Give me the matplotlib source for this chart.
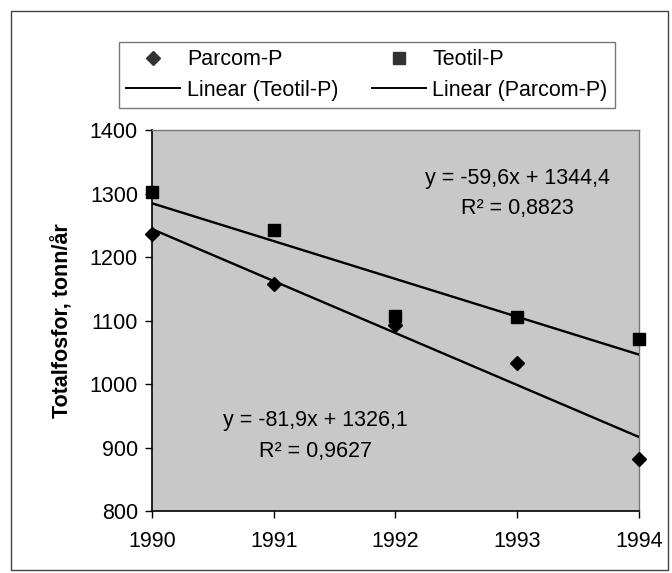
import matplotlib
matplotlib.use("Agg")
import matplotlib.pyplot as plt
from matplotlib.patches import Rectangle
from matplotlib.lines import Line2D
import numpy as np

plt.rcParams['font.family'] = ['Liberation Sans', 'DejaVu Sans']

years = ["1990", "1991", "1992", "1993", "1994"]
parcom_p = [1236, 1157, 1093, 1034, 882]
teotil_p = [1302, 1242, 1108, 1105, 1071]
teotil_fit = (-59.6, 1344.4)
parcom_fit = (-81.9, 1326.1)
teotil_eq = ["y = -59,6x + 1344,4", "R² = 0,8823"]
parcom_eq = ["y = -81,9x + 1326,1", "R² = 0,9627"]
yticks = [800, 900, 1000, 1100, 1200, 1300, 1400]

fig = plt.figure(figsize=(6.72, 5.73), dpi=100)
ax = fig.add_axes([0.226, 0.108, 0.725, 0.665])
ax.set_facecolor('#c8c8c8')

x = np.arange(1, len(years) + 1)
fs = 15.5

ax.plot(x, parcom_p, linestyle='none', marker='D', ms=7.5, color='black', zorder=4, clip_on=False)
ax.plot(x, teotil_p, linestyle='none', marker='s', ms=9, color='black', zorder=4, clip_on=False)
ax.plot(x, teotil_fit[0] * x + teotil_fit[1], color='black', lw=1.7, zorder=3)
ax.plot(x, parcom_fit[0] * x + parcom_fit[1], color='black', lw=1.7, zorder=3)

ax.set_xlim(1, 5)
ax.set_ylim(800, 1400)
ax.set_xticks(x)
ax.set_xticklabels(years, fontsize=fs)
ax.set_yticks(yticks)
ax.set_yticklabels([str(v) for v in yticks], fontsize=fs)
ax.tick_params(direction='out', length=5, width=1, pad=5)
ax.tick_params(axis='x', pad=9)
for s in ['left', 'bottom']:
    ax.spines[s].set_color('black')
    ax.spines[s].set_linewidth(1.2)
for s in ['top', 'right']:
    ax.spines[s].set_color('#777777')
    ax.spines[s].set_linewidth(1.0)

ax.set_ylabel("Totalfosfor, tonn/år", fontsize=fs, fontweight='bold', labelpad=12)

ax.text(4.0, 1323, teotil_eq[0], ha='center', va='center', fontsize=fs)
ax.text(4.0, 1277, teotil_eq[1], ha='center', va='center', fontsize=fs)
ax.text(2.34, 943, parcom_eq[0], ha='center', va='center', fontsize=fs)
ax.text(2.34, 894, parcom_eq[1], ha='center', va='center', fontsize=fs)

handles = [
    Line2D([], [], linestyle='none', marker='D', ms=7, color='#333333'),
    Line2D([], [], color='black', lw=1.4),
    Line2D([], [], linestyle='none', marker='s', ms=8, color='#333333'),
    Line2D([], [], color='black', lw=1.4),
]
labels = ["Parcom-P", "Linear (Teotil-P)", "Teotil-P", "Linear (Parcom-P)"]
leg = fig.legend(handles, labels, ncol=2, loc='lower left',
                 bbox_to_anchor=(0.177, 0.811, 0.738, 0.142), mode='expand',
                 fontsize=fs, frameon=True, fancybox=False, edgecolor='#555555',
                 handlelength=2.5, handletextpad=0.3, columnspacing=1.0,
                 borderaxespad=0, borderpad=0.35, labelspacing=0.45)
leg.get_frame().set_linewidth(1.0)

fig.patches.append(Rectangle((11 / 672, 3 / 573), 657 / 672, 559 / 573,
                             transform=fig.transFigure, fill=False,
                             edgecolor='#444444', lw=1.0))

fig.savefig("out.png", dpi=100)
